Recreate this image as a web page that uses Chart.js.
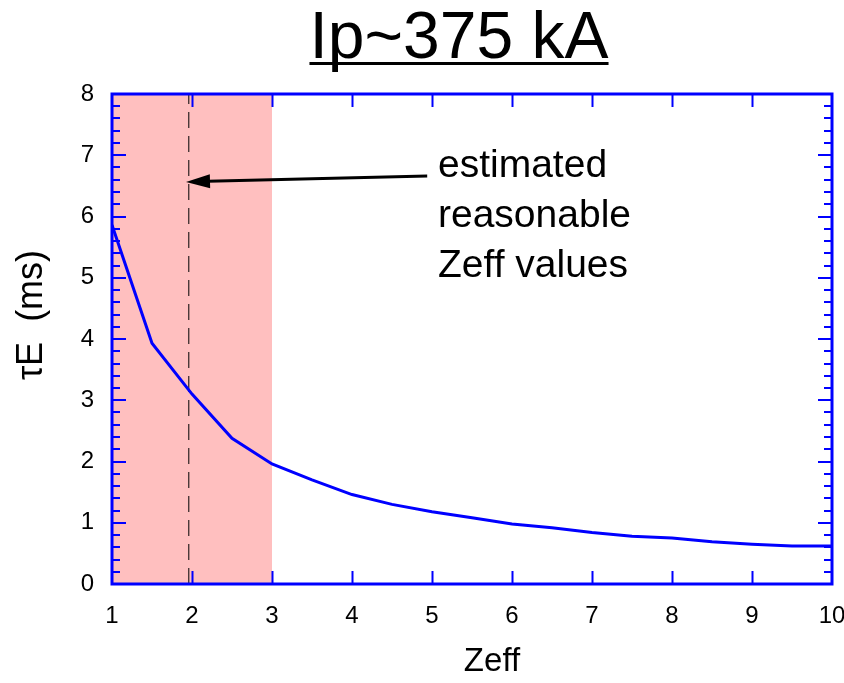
<!DOCTYPE html>
<html>
<head>
<meta charset="utf-8">
<title>Ip~375 kA</title>
<script src="https://cdn.jsdelivr.net/npm/chart.js@4.4.1/dist/chart.umd.min.js"></script>
<style>
  html, body { margin: 0; padding: 0; background: #fff; }
  #wrap { width: 844px; height: 683px; position: relative; }
</style>
</head>
<body>
<div id="wrap"><canvas id="chart"></canvas></div>
<script>
// Energy confinement time vs. effective charge
const zeff = [1, 1.5, 2, 2.5, 3, 3.5, 4, 4.5, 5, 5.5, 6, 6.5, 7, 7.5, 8, 8.5, 9, 9.5, 10];
const tauE = [5.86, 3.93, 3.10, 2.38, 1.96, 1.70, 1.46, 1.30, 1.18, 1.08, 0.98, 0.92, 0.84, 0.78, 0.75, 0.69, 0.65, 0.62, 0.62];

// Shaded band of plausible Zeff and the dashed marker inside it
const reasonableZeff = [1, 3];
const markerZeff = 1.96;

// Annotation: arrow from the label back to the marker
const arrowTail = { x: 4.94, y: 6.66 };
const arrowTip = { x: 1.925, y: 6.565 };
const noteAnchor = { x: 5.075, y: 6.645 };
const noteLines = ['estimated', 'reasonable', 'Zeff values'];

const xRange = [1, 10];
const yRange = [0, 8];

const BLUE = '#0000ff';
const PINK = '#ffbfbf';
const FONT = '"Liberation Sans", Arial, Helvetica, sans-serif';

/** Boxed frame with inward ticks on all four sides */
const frameTicks = {
  id: 'frameTicks',
  afterDatasetsDraw(chart) {
    const { ctx, chartArea: a, scales: { x, y } } = chart;
    ctx.save();
    ctx.strokeStyle = BLUE;
    ctx.lineWidth = 2;
    ctx.beginPath();
    for (let v = xRange[0] + 1; v < xRange[1]; v++) {
      const px = Math.round(x.getPixelForValue(v)) + 0.5;
      ctx.moveTo(px, a.bottom); ctx.lineTo(px, a.bottom - 13);
      ctx.moveTo(px, a.top); ctx.lineTo(px, a.top + 13);
    }
    for (let i = 1; i < 40; i++) {
      const len = i % 5 === 0 ? 14 : 8;
      const py = Math.round(y.getPixelForValue(i * 0.2));
      ctx.moveTo(a.left, py); ctx.lineTo(a.left + len, py);
      ctx.moveTo(a.right, py); ctx.lineTo(a.right - len, py);
    }
    ctx.stroke();
    ctx.lineWidth = 3;
    ctx.strokeRect(a.left, a.top, a.width, a.height);
    ctx.restore();
  },
};

/** Title, axis titles and the arrow annotation */
const textLayer = {
  id: 'textLayer',
  afterDraw(chart) {
    const { ctx, scales: { x, y } } = chart;
    ctx.save();
    ctx.fillStyle = '#000';

    // underlined title
    ctx.font = `66px ${FONT}`;
    ctx.textAlign = 'center';
    ctx.textBaseline = 'alphabetic';
    const title = 'Ip~375 kA';
    const cx = 459;
    ctx.fillText(title, cx, 58);
    const w = ctx.measureText(title).width;
    ctx.fillRect(cx - w / 2, 62, w, 3);

    // axis titles
    ctx.font = `33px ${FONT}`;
    ctx.textBaseline = 'middle';
    ctx.fillText('Zeff', 492, 662);
    ctx.font = `36px ${FONT}`;
    ctx.save();
    ctx.translate(32, 315);
    ctx.rotate(-Math.PI / 2);
    ctx.fillText('\u03c4E  (ms)', 0, 0);
    ctx.restore();

    // arrow with a solid head
    const x0 = x.getPixelForValue(arrowTail.x), y0 = y.getPixelForValue(arrowTail.y);
    const x1 = x.getPixelForValue(arrowTip.x), y1 = y.getPixelForValue(arrowTip.y);
    const ang = Math.atan2(y1 - y0, x1 - x0);
    const headLen = 24, headHalf = 7;
    const bx = x1 - headLen * Math.cos(ang), by = y1 - headLen * Math.sin(ang);
    ctx.strokeStyle = '#000';
    ctx.lineWidth = 3;
    ctx.beginPath();
    ctx.moveTo(x0, y0);
    ctx.lineTo(bx + 2 * Math.cos(ang), by + 2 * Math.sin(ang));
    ctx.stroke();
    ctx.beginPath();
    ctx.moveTo(x1, y1);
    ctx.lineTo(bx - headHalf * Math.sin(ang), by + headHalf * Math.cos(ang));
    ctx.lineTo(bx + headHalf * Math.sin(ang), by - headHalf * Math.cos(ang));
    ctx.closePath();
    ctx.fill();

    // note text
    ctx.font = `39px ${FONT}`;
    ctx.textAlign = 'left';
    ctx.textBaseline = 'alphabetic';
    const tx = x.getPixelForValue(noteAnchor.x);
    const ty = y.getPixelForValue(noteAnchor.y);
    noteLines.forEach((line, i) => ctx.fillText(line, tx, ty + i * 50));
    ctx.restore();
  },
};

const ctx = document.getElementById('chart');

new Chart(ctx, {
  type: 'line',
  data: {
    datasets: [
      {
        label: 'tauE',
        data: zeff.map((z, i) => ({ x: z, y: tauE[i] })),
        borderColor: BLUE,
        borderWidth: 3,
        pointRadius: 0,
        tension: 0,
        fill: false,
        order: 1,
      },
      {
        label: 'marker',
        data: [{ x: markerZeff, y: yRange[0] }, { x: markerZeff, y: yRange[1] }],
        borderColor: '#000',
        borderWidth: 1,
        borderDash: [16, 8],
        pointRadius: 0,
        fill: false,
        order: 2,
      },
      {
        label: 'band',
        data: reasonableZeff.map((z) => ({ x: z, y: yRange[1] })),
        borderWidth: 0,
        borderColor: 'rgba(0,0,0,0)',
        backgroundColor: PINK,
        pointRadius: 0,
        fill: 'origin',
        order: 3,
      },
    ],
  },
  options: {
    responsive: true,
    maintainAspectRatio: false,
    animation: false,
    layout: { padding: { top: 94, right: 12, left: 0, bottom: 0 } },
    plugins: {
      legend: { display: false },
      tooltip: { enabled: false },
      title: { display: false },
    },
    scales: {
      x: {
        type: 'linear',
        min: xRange[0],
        max: xRange[1],
        grid: { display: false, drawTicks: false },
        border: { display: false },
        ticks: {
          stepSize: 1,
          autoSkip: false,
          maxRotation: 0,
          color: '#000',
          padding: 18,
          font: { family: FONT, size: 24 },
        },
        afterFit(scale) {
          scale.height = 99;
          // keep the tick padding from widening the side margins
          scale.paddingLeft = 0;
          scale.paddingRight = 12;
        },
      },
      y: {
        type: 'linear',
        min: yRange[0],
        max: yRange[1],
        grid: { display: false, drawTicks: false },
        border: { display: false },
        ticks: {
          stepSize: 1,
          color: '#000',
          padding: 18,
          font: { family: FONT, size: 24 },
        },
        afterFit(scale) { scale.width = 112; },
      },
    },
  },
  plugins: [frameTicks, textLayer],
});
</script>
</body>
</html>
